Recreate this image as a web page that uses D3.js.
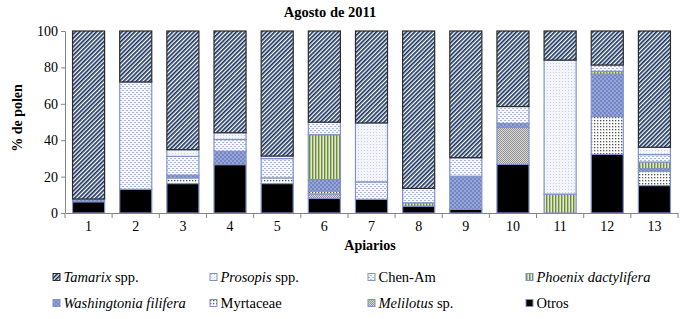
<!DOCTYPE html>
<html><head><meta charset="utf-8">
<script src="https://cdn.jsdelivr.net/npm/d3@7"></script>
<style>body{margin:0;background:#fff}svg{display:block}svg text{font-family:"Liberation Serif","Times New Roman",Times,"DejaVu Serif",serif !important}</style>
</head><body><svg id="c" width="687" height="319"></svg>
<script>
const categories = ["1","2","3","4","5","6","7","8","9","10","11","12","13"];
const yTicks = [0,20,40,60,80,100];
// series listed bottom-to-top of each stack
const otros        = [6.2,13.0,16.2,26.6,16.2,8.0,7.5,3.8,2.0,26.7,0,32.2,15.1];
const melilotus    = [0,0,0,0,0,2.5,0,0,0,20.3,0,0,0];
const myrtaceae    = [0,0,3.1,0,3.1,1.5,0,0,0,0,0,20.8,7.9];
const washingtonia = [1.5,0,1.5,7.3,0,6.4,0,0,18.2,2.2,0,23.3,1.4];
const phoenix      = [0,0,0,0,0,24.6,0,1.8,0,0,10.4,1.5,3.6];
const chenAm       = [0,59.0,10.3,6.5,10.6,6.9,9.6,7.9,10.2,9.3,0,3.5,4.1];
const prosopis     = [0,0,3.7,3.7,1.4,0,32.4,0,0,0,73.6,0,4.0];
const tamarix      = [92.3,28.0,65.2,55.9,68.7,50.1,50.5,86.5,69.6,41.5,16.0,18.7,63.9];
const stackOrder = ["otros","melilotus","myrtaceae","washingtonia","phoenix","chenAm","prosopis","tamarix"];
const legendOrder = ["tamarix","prosopis","chenAm","phoenix","washingtonia","myrtaceae","melilotus","otros"];
const labels = {tamarix:[["Tamarix",true],[" spp.",false]],prosopis:[["Prosopis",true],[" spp.",false]],chenAm:[["Chen-Am",false]],phoenix:[["Phoenix dactylifera",true]],washingtonia:[["Washingtonia filifera",true]],myrtaceae:[["Myrtaceae",false]],melilotus:[["Melilotus",true],[" sp.",false]],otros:[["Otros",false]]};
const values = {otros,melilotus,myrtaceae,washingtonia,phoenix,chenAm,prosopis,tamarix};

const svg = d3.select("#c");
const defs = svg.append("defs");
function pat(id,w,h,build,transform){
  const p = defs.append("pattern").attr("id",id).attr("patternUnits","userSpaceOnUse").attr("width",w).attr("height",h);
  if(transform) p.attr("patternTransform",transform);
  build(p);
}
pat("p-tamarix",3,3,p=>{p.append("rect").attr("width",3).attr("height",3).attr("fill","#fff");p.append("rect").attr("width",1.7).attr("height",3).attr("fill","#1c355f");},"rotate(45)");
pat("p-prosopis",3,3,p=>{p.append("rect").attr("width",3).attr("height",3).attr("fill","#f3f5fa");p.append("rect").attr("x",1).attr("width",1).attr("height",1).attr("fill","#c6cfe6");});
pat("p-chenAm",4,4,p=>{p.append("rect").attr("width",4).attr("height",4).attr("fill","#f7f8fc");p.append("rect").attr("width",2).attr("height",1).attr("fill","#a9b6de");p.append("rect").attr("x",2).attr("y",2).attr("width",2).attr("height",1).attr("fill","#a9b6de");});
pat("p-phoenix",3,3,p=>{p.append("rect").attr("width",3).attr("height",3).attr("fill","#dfe8cc");p.append("rect").attr("width",1.4).attr("height",3).attr("fill","#6f8d3a");});
pat("p-washingtonia",4,4,p=>{p.append("rect").attr("width",4).attr("height",4).attr("fill","#96a5d6");p.append("rect").attr("width",2).attr("height",2).attr("fill","#7486c4");p.append("rect").attr("x",2).attr("y",2).attr("width",2).attr("height",2).attr("fill","#7486c4");});
pat("p-myrtaceae",3,3,p=>{p.append("rect").attr("width",3).attr("height",3).attr("fill","#fff");p.append("rect").attr("width",1.3).attr("height",1.3).attr("fill","#555");});
pat("p-melilotus",2,2,p=>{p.append("rect").attr("width",2).attr("height",2).attr("fill","#dcdcdc");p.append("rect").attr("width",1).attr("height",1).attr("fill","#8f8f8f");p.append("rect").attr("x",1).attr("y",1).attr("width",1).attr("height",1).attr("fill","#8f8f8f");});
const fills = {tamarix:"url(#p-tamarix)",prosopis:"url(#p-prosopis)",chenAm:"url(#p-chenAm)",phoenix:"url(#p-phoenix)",washingtonia:"url(#p-washingtonia)",myrtaceae:"url(#p-myrtaceae)",melilotus:"url(#p-melilotus)",otros:"#000"};
const strokes = {tamarix:"#2b2b2b"};

const margin = {left:65,right:9,top:31,bottom:106};
const W = 687, H = 319;
const x = d3.scaleBand().domain(categories).range([margin.left, W-margin.right]).paddingInner(0.32).paddingOuter(0.16);
const y = d3.scaleLinear().domain([0,100]).range([H-margin.bottom, margin.top]);

const table = categories.map((c,i)=>{const o={cat:c};stackOrder.forEach(k=>o[k]=values[k][i]);return o;});
const stacked = d3.stack().keys(stackOrder)(table);

const g = svg.append("g");
stacked.forEach(layer=>{
  g.selectAll(null).data(layer.filter(d=>d[1]-d[0]>0)).enter().append("rect")
    .attr("x",d=>x(d.data.cat)).attr("width",x.bandwidth())
    .attr("y",d=>y(d[1])).attr("height",d=>y(d[0])-y(d[1]))
    .attr("fill",fills[layer.key])
    .attr("stroke",strokes[layer.key]||"#8093c9").attr("stroke-width",1.2);
});

const yAxis = d3.axisLeft(y).tickValues(yTicks).tickSize(4).tickPadding(3);
const ya = svg.append("g").attr("transform",`translate(${margin.left},0)`).call(yAxis);
ya.select(".domain").attr("stroke","#868686");
ya.selectAll(".tick line").attr("stroke","#868686");
ya.selectAll("text").attr("font-size",14).attr("fill","#000");

const xa = svg.append("g").attr("transform",`translate(0,${H-margin.bottom})`).call(d3.axisBottom(x).tickSize(0).tickPadding(8));
xa.select(".domain").attr("stroke","#868686");
xa.selectAll("text").attr("font-size",14).attr("fill","#000");
const bounds = d3.range(categories.length+1).map(i=>margin.left + i*(W-margin.right-margin.left)/categories.length);
xa.selectAll(".bt").data(bounds).enter().append("line").attr("class","bt")
  .attr("x1",d=>d).attr("x2",d=>d).attr("y1",0).attr("y2",5).attr("stroke","#868686");

svg.append("text").attr("x",330).attr("y",17).attr("text-anchor","middle").attr("font-weight","bold").attr("font-size",14.5).text("Agosto de 2011");
svg.append("text").attr("x",370).attr("y",250).attr("text-anchor","middle").attr("font-weight","bold").attr("font-size",14).text("Apiarios");
svg.append("text").attr("transform","translate(22,118) rotate(-90)").attr("text-anchor","middle").attr("font-weight","bold").attr("font-size",14).text("% de polen");

const colX = [53,210,368,526], rowY = [277,303];
legendOrder.forEach((k,i)=>{
  const cx = colX[i%4], cy = rowY[Math.floor(i/4)];
  const lg = svg.append("g").attr("transform",`translate(${cx},${cy})`);
  lg.append("rect").attr("x",0).attr("y",-3.5).attr("width",7).attr("height",7).attr("fill",fills[k]).attr("stroke",strokes[k]||"#8093c9").attr("stroke-width",1);
  const t = lg.append("text").attr("x",10.5).attr("y",5).attr("font-size",14.5);
  labels[k].forEach(([s,it])=>t.append("tspan").attr("font-style",it?"italic":"normal").text(s));
});
</script></body></html>
